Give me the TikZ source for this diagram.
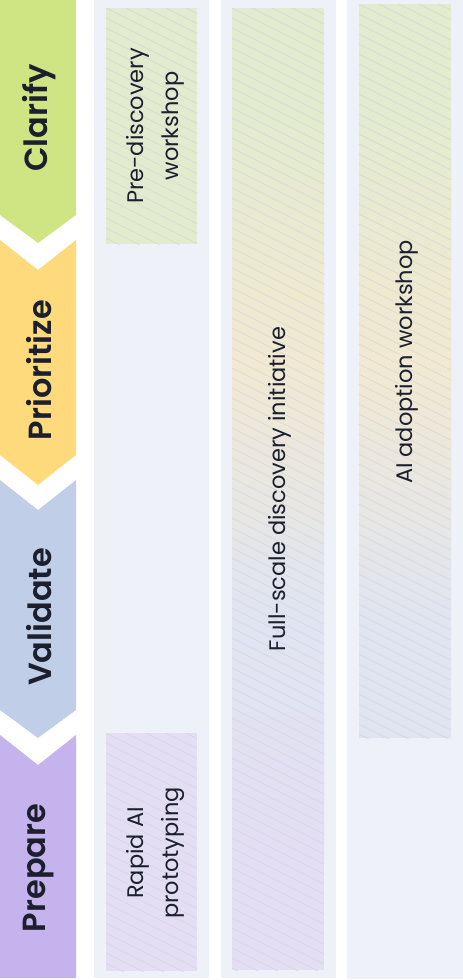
\documentclass[tikz,border=0pt]{standalone}
\usepackage{fontspec}
\setmainfont{Poppins}
\newfontfamily\phasefont{Poppins}[UprightFont=* SemiBold]
\usepackage{xcolor}
\usepackage{tikz}
\usetikzlibrary{positioning}
\definecolor{clarifygreen}{RGB}{207,228,130}
\definecolor{prioyellow}{RGB}{255,218,125}
\definecolor{validblue}{RGB}{192,206,231}
\definecolor{prepurple}{RGB}{197,179,238}
\definecolor{colbg}{RGB}{238,241,247}
\definecolor{palegreen}{RGB}{227,235,207}
\definecolor{paleyellow}{RGB}{241,233,209}
\definecolor{paleblue}{RGB}{224,228,241}
\definecolor{palepurple}{RGB}{227,222,243}
\definecolor{hatchgray}{RGB}{212,213,216}
\definecolor{inkdark}{RGB}{27,31,46}
\tikzset{phase/.style={rotate=90,text=inkdark,font=\fontsize{32}{34}\phasefont},
  task/.style={rotate=90,text=inkdark,align=center,font=\fontsize{22.5}{35}\selectfont},
  hatchline/.style={draw=hatchgray,line width=0.45pt}}
\newcommand{\hatchbox}[4]{%
  \begin{scope}
    \clip (#1,#2) rectangle (#3,#4);
    \foreach \k in {-8,...,98} \draw[hatchline] (#1,#2+\k*10) -- ++(200,100);
  \end{scope}}

\begin{document}
\begin{tikzpicture}[x=1pt,y=-1pt]
    \useasboundingbox (0,0) rectangle (463,980);

    % phases
    \fill[clarifygreen] (0,0) -- (76,0) -- (76,215) -- (38,243) -- (0,215) -- cycle;
    \fill[prioyellow] (0,240) -- (38,270) -- (76,240) -- (76,455) -- (38,485) -- (0,455) -- cycle;
    \fill[validblue] (0,480) -- (38,510) -- (76,480) -- (76,710) -- (38,738) -- (0,710) -- cycle;
    \fill[prepurple] (0,735) -- (38,765) -- (76,735) -- (76,978) -- (0,978) -- cycle;
    \node[phase] (clarify) at (39,118) {Clarify};
    \node[phase] (prioritize) at (39,370) {Prioritize};
    \node[phase] (validate) at (39,617) {Validate};
    \node[phase] (prepare) at (39,868) {Prepare};

    % columns
    \fill[colbg] (94,0) rectangle (209,978);
    \fill[colbg] (221,0) rectangle (336,978);
    \fill[colbg] (347,0) rectangle (463,979);

    % column 1
    \fill[palegreen] (106,8) rectangle (197,244);
    \hatchbox{106}{8}{197}{244}
    \node[task] (prediscovery) at (155,126) {Pre-discovery\\workshop};
    \fill[palepurple] (106,733) rectangle (197,971);
    \hatchbox{106}{733}{197}{971}
    \node[task] (rapidai) at (155,853) {Rapid AI\\prototyping};

    % column 2
    \fill[palegreen] (232,8) rectangle (324,120.5);
    \shade[top color=palegreen,bottom color=paleyellow] (232,120) rectangle (324,360.5);
    \shade[top color=paleyellow,bottom color=paleblue] (232,360) rectangle (324,610.5);
    \shade[top color=paleblue,bottom color=palepurple] (232,610) rectangle (324,860.5);
    \fill[palepurple] (232,860) rectangle (324,970);
    \hatchbox{232}{8}{324}{970}
    \node[task] (fullscale) at (280,489) {Full-scale discovery initiative};

    % column 3
    \fill[palegreen] (359,4) rectangle (451,120.5);
    \shade[top color=palegreen,bottom color=paleyellow] (359,120) rectangle (451,360.5);
    \shade[top color=paleyellow,bottom color=paleblue] (359,360) rectangle (451,620.5);
    \fill[paleblue] (359,620) rectangle (451,738);
    \hatchbox{359}{4}{451}{738}
    \node[task] (adoption) at (407,362) {AI adoption workshop};
\end{tikzpicture}
\end{document}
